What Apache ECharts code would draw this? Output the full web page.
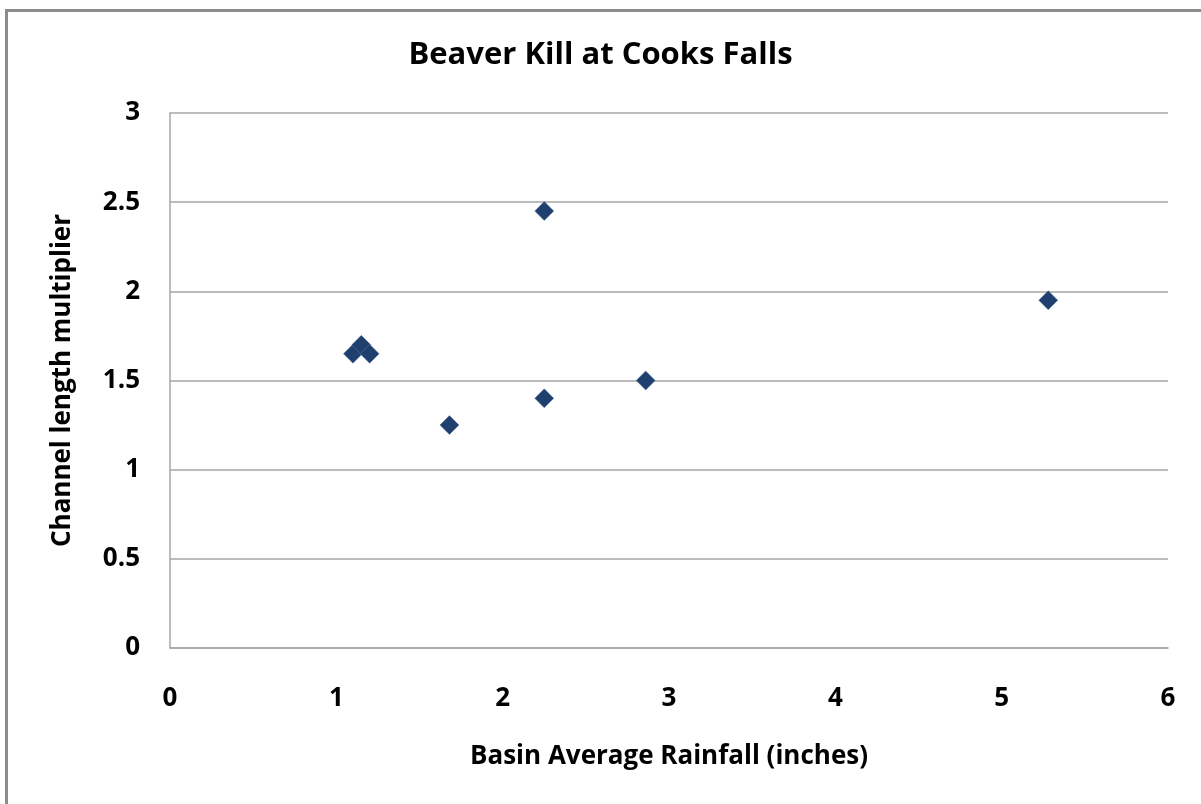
<!DOCTYPE html>
<html>
<head>
<meta charset="utf-8">
<script src="https://cdn.jsdelivr.net/npm/echarts@6/dist/echarts.min.js"></script>
<style>
  html, body { margin: 0; padding: 0; background: #ffffff; }
  #chart { width: 1201px; height: 804px; }
</style>
</head>
<body>
<div id="chart"></div>
<script>
// rainfall (inches) vs channel length multiplier
var rainfall = [1.1, 1.15, 1.2, 1.68, 2.25, 2.25, 2.86, 5.28];
var multiplier = [1.65, 1.7, 1.65, 1.25, 2.45, 1.4, 1.5, 1.95];

var points = rainfall.map(function (x, i) { return [x, multiplier[i]]; });

var fontFam = '"Open Sans", "Noto Sans", sans-serif';
var gridColor = '#a6a6a6';

var myChart = echarts.init(document.getElementById('chart'));
myChart.setOption({
  backgroundColor: '#ffffff',
  animation: false,
  title: {
    text: 'Beaver Kill at Cooks Falls',
    left: 'center',
    top: 35,
    textStyle: { fontFamily: fontFam, fontSize: 31, fontWeight: 'bold', color: '#000000' }
  },
  graphic: [{
    type: 'rect',
    shape: { x: 6.5, y: 10.5, width: 1300, height: 900 },
    style: { fill: 'none', stroke: '#8c8c8c', lineWidth: 3 },
    silent: true
  }],
  grid: { left: 170, top: 113, right: 33, bottom: 156 },
  xAxis: {
    type: 'value',
    min: 0, max: 6, interval: 1,
    name: 'Basin Average Rainfall (inches)',
    nameLocation: 'middle',
    nameGap: 96,
    nameTextStyle: { fontFamily: fontFam, fontSize: 26, fontWeight: 'bold', color: '#000000' },
    axisLine: { show: true, lineStyle: { color: gridColor, width: 1.5 } },
    axisTick: { show: false },
    splitLine: { show: false },
    axisLabel: { fontFamily: fontFam, fontSize: 26, fontWeight: 'bold', color: '#000000', margin: 38 }
  },
  yAxis: {
    type: 'value',
    min: 0, max: 3, interval: 0.5,
    name: 'Channel length multiplier',
    nameLocation: 'middle',
    nameGap: 94,
    nameTextStyle: { fontFamily: fontFam, fontSize: 26, fontWeight: 'bold', color: '#000000' },
    axisLine: { show: true, lineStyle: { color: gridColor, width: 1.5 } },
    axisTick: { show: false },
    splitLine: { show: true, lineStyle: { color: gridColor, width: 1.5 } },
    axisLabel: { fontFamily: fontFam, fontSize: 26, fontWeight: 'bold', color: '#000000', margin: 30 }
  },
  series: [{
    type: 'scatter',
    data: points,
    symbol: 'diamond',
    symbolSize: 19,
    itemStyle: { color: '#1f3f6e', opacity: 1, borderColor: '#5d7aa3', borderWidth: 0.5 }
  }]
});
</script>
</body>
</html>
